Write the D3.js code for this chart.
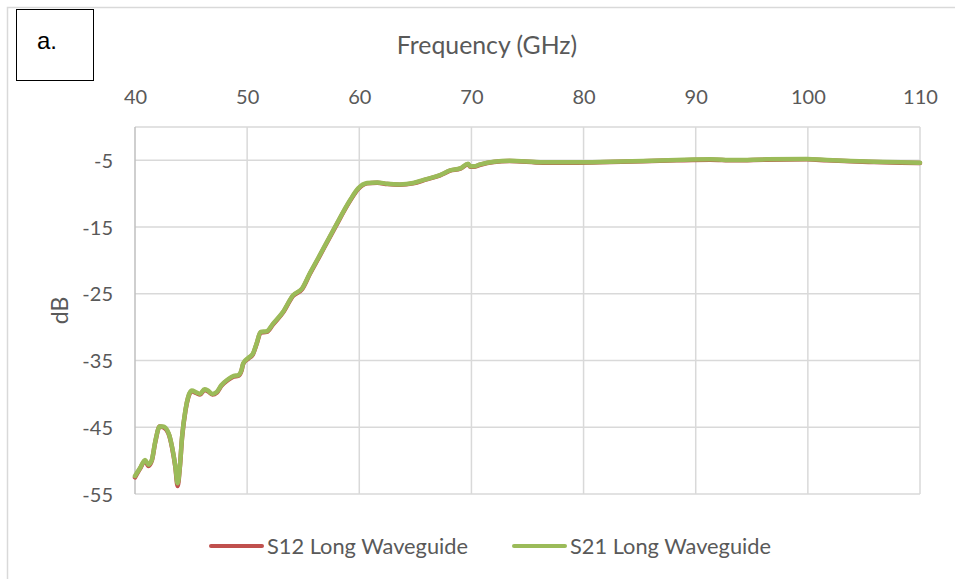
<!DOCTYPE html>
<html><head><meta charset="utf-8">
<script src="https://cdn.jsdelivr.net/npm/d3@7"></script>
<style>
html,body{margin:0;padding:0;background:#fff;}
svg{display:block;}
</style></head>
<body>
<script>
// ---- data ----
const freqS21 = [40,40.45,40.9,41.2,41.5,41.8,42.2,42.5,43.0,43.3,43.6,43.8,44.0,44.2,44.5,44.75,45.05,45.5,45.8,46.2,46.5,46.9,47.3,47.7,48.3,48.8,49.2,49.5,49.65,50.1,50.5,50.85,51.2,51.75,52.3,53.2,54.1,54.9,55.6,56.35,57.7,59.2,59.9,60.7,61.6,62.5,63.6,64.8,66.0,67.2,68.1,69.0,69.7,69.9,70.2,70.8,72.0,73.4,76.4,79.4,82.4,85.3,88.3,91.3,93.4,96.3,99.9,101.7,103.8,105.9,108.3,110];
const s21 = [-52.3,-51.1,-49.9,-50.6,-49.9,-47.2,-44.9,-44.9,-45.9,-47.9,-50.9,-53.4,-50.9,-46.4,-42.4,-40.4,-39.5,-39.8,-40.0,-39.3,-39.5,-40.0,-39.7,-38.7,-37.8,-37.3,-37.2,-36.4,-35.4,-34.6,-34.0,-32.4,-30.7,-30.6,-29.5,-27.7,-25.2,-24.2,-21.9,-19.6,-15.4,-10.9,-9.2,-8.4,-8.3,-8.5,-8.6,-8.4,-7.8,-7.2,-6.5,-6.2,-5.5,-5.9,-5.9,-5.6,-5.2,-5.05,-5.3,-5.3,-5.2,-5.1,-4.95,-4.85,-4.95,-4.85,-4.8,-4.95,-5.1,-5.2,-5.3,-5.35];
const freqS12 = freqS21;
const s12 = [-52.5,-51.2,-50.0,-50.8,-50.0,-47.3,-44.9,-45.0,-46.0,-48.0,-51.0,-53.8,-51.0,-46.5,-42.5,-40.5,-39.6,-39.9,-40.1,-39.4,-39.6,-40.1,-39.8,-38.8,-37.9,-37.4,-37.3,-36.5,-35.5,-34.7,-34.1,-32.5,-30.8,-30.7,-29.6,-27.8,-25.3,-24.3,-22.0,-19.7,-15.5,-11.0,-9.3,-8.45,-8.35,-8.55,-8.65,-8.45,-7.85,-7.25,-6.55,-6.25,-5.6,-5.95,-5.95,-5.65,-5.25,-5.1,-5.35,-5.35,-5.25,-5.15,-5.0,-4.9,-5.0,-4.9,-4.85,-5.0,-5.15,-5.25,-5.35,-5.4];
const xTicks = [40,50,60,70,80,90,100,110];
const yTicks = [-5,-15,-25,-35,-45,-55];
const seriesNames = ["S12 Long Waveguide","S21 Long Waveguide"];
const seriesColors = ["#C0504D","#9BBB59"];

// ---- layout ----
const W = 955, H = 579;
const svg = d3.select("body").append("svg").attr("width",W).attr("height",H);
const x = d3.scaleLinear().domain([40,110]).range([135,920]);
const y = d3.scaleLinear().domain([-55,0]).range([494,127]);
const font = "Lato, 'Open Sans', sans-serif";
const grey = "#595959";

// outer chart border
svg.append("rect").attr("x",7.5).attr("y",7.5).attr("width",W+10).attr("height",H+10)
  .attr("fill","#fff").attr("stroke","#d9d9d9").attr("stroke-width",1.5);

// grid
const g = svg.append("g");
g.selectAll("line.v").data(xTicks.slice(1)).join("line")
  .attr("x1",d=>x(d)).attr("x2",d=>x(d)).attr("y1",y(0)).attr("y2",y(-55))
  .attr("stroke","#d9d9d9").attr("stroke-width",1.5);
g.selectAll("line.h").data(yTicks.concat([0])).join("line")
  .attr("x1",x(40)).attr("x2",x(110)).attr("y1",d=>y(d)).attr("y2",d=>y(d))
  .attr("stroke","#d9d9d9").attr("stroke-width",1.5);
// left axis line
g.append("line").attr("x1",x(40)).attr("x2",x(40)).attr("y1",y(0)).attr("y2",y(-55))
  .attr("stroke","#bfbfbf").attr("stroke-width",1.5);

// axes (top x, left y) via d3 axes
const xAxis = svg.append("g").attr("transform",`translate(0,${y(0)-23})`)
  .call(d3.axisTop(x).tickValues(xTicks).tickSize(0).tickPadding(0).tickFormat(d3.format("d")));
xAxis.select(".domain").remove();
xAxis.selectAll("text").attr("font-family",font).attr("font-size",20).attr("fill",grey);

const yAxis = svg.append("g").attr("transform",`translate(${x(40)-22},0)`)
  .call(d3.axisLeft(y).tickValues(yTicks).tickSize(0).tickPadding(0).tickFormat(d=>d3.format("d")(d).replace("−","-")));
yAxis.select(".domain").remove();
yAxis.selectAll("text").attr("font-family",font).attr("font-size",20).attr("fill",grey).attr("dy","0.35em");

// axis titles
svg.append("text").attr("x",487).attr("y",54).attr("text-anchor","middle")
  .attr("font-family",font).attr("font-size",24.8).attr("fill",grey).text("Frequency (GHz)");
svg.append("text").attr("transform",`translate(68,${(y(0)+y(-55))/2}) rotate(-90)`)
  .attr("text-anchor","middle").attr("font-family",font).attr("font-size",23).attr("fill",grey).text("dB");

// lines
const line = d3.line().x(d=>x(d[0])).y(d=>y(d[1])).curve(d3.curveMonotoneX);
const d12 = freqS12.map((f,i)=>[f,s12[i]]);
const d21 = freqS21.map((f,i)=>[f,s21[i]]);
svg.append("path").attr("d",line(d12)).attr("fill","none").attr("stroke",seriesColors[0])
  .attr("stroke-width",4.5).attr("stroke-linejoin","round").attr("stroke-linecap","round");
svg.append("path").attr("d",line(d21)).attr("fill","none").attr("stroke",seriesColors[1])
  .attr("stroke-width",4.5).attr("stroke-linejoin","round").attr("stroke-linecap","round");

// legend
const legX = [211, 514];
seriesNames.forEach((n,i)=>{
  svg.append("line").attr("x1",legX[i]).attr("x2",legX[i]+51).attr("y1",546).attr("y2",546)
    .attr("stroke",seriesColors[i]).attr("stroke-width",4).attr("stroke-linecap","round");
  svg.append("text").attr("x",legX[i]+56).attr("y",546).attr("dy","0.35em")
    .attr("font-family",font).attr("font-size",21.8).attr("fill",grey).text(n);
});

// panel label box
svg.append("rect").attr("x",16.5).attr("y",9.5).attr("width",77).attr("height",71)
  .attr("fill","#fff").attr("stroke","#000").attr("stroke-width",1);
svg.append("text").attr("x",37).attr("y",49).attr("font-family","'Liberation Sans', Arial, sans-serif")
  .attr("font-size",24).attr("fill","#000").text("a.");
</script>
</body></html>
